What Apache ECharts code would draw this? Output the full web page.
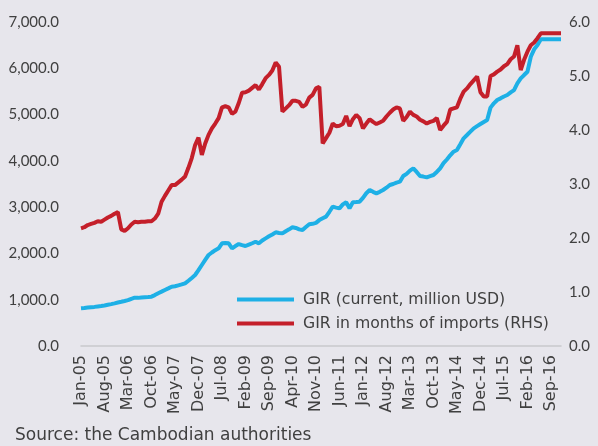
<!DOCTYPE html>
<html>
<head>
<meta charset="utf-8">
<script src="https://cdn.jsdelivr.net/npm/echarts@6/dist/echarts.min.js"></script>
<style>
html,body{margin:0;padding:0;background:#e7e6ec;}
#c{width:598px;height:446px;}
</style>
</head>
<body>
<div id="c"></div>
<script>
const months = ['Jan','Feb','Mar','Apr','May','Jun','Jul','Aug','Sep','Oct','Nov','Dec'];
const years = ['05','06','07','08','09','10','11','12','13','14','15','16'];
const categories = [];
years.forEach(y => months.forEach(m => categories.push(m + '-' + y)));

const girUSD = [
 814,820,830,838,845,855,864,875,890,905,922,940,
 955,972,990,1020,1044,1040,1050,1055,1060,1066,1100,1140,
 1174,1210,1245,1281,1290,1310,1330,1354,1410,1470,1534,1640,
 1750,1860,1966,2020,2070,2110,2218,2225,2218,2110,2160,2203,
 2180,2160,2190,2220,2253,2218,2280,2326,2370,2410,2456,2440,
 2434,2480,2520,2564,2550,2520,2506,2570,2629,2640,2660,2720,
 2760,2794,2900,3010,2990,2974,3060,3104,2974,3104,3110,3118,
 3200,3300,3370,3330,3298,3330,3370,3420,3478,3500,3530,3550,
 3672,3720,3790,3839,3760,3672,3660,3644,3670,3694,3760,3839,
 3950,4030,4120,4198,4234,4360,4487,4558,4630,4703,4750,4796,
 4840,4882,5150,5243,5314,5350,5390,5422,5480,5530,5674,5780,
 5854,5926,6250,6410,6502,6626,6626,6626,6626,6626,6626,6626
];

const girMonths = [
 2.18,2.20,2.24,2.26,2.28,2.31,2.30,2.34,2.38,2.41,2.45,2.48,
 2.16,2.13,2.18,2.25,2.30,2.29,2.30,2.30,2.31,2.31,2.36,2.45,
 2.67,2.78,2.88,2.98,2.98,3.03,3.08,3.14,3.30,3.48,3.72,3.86,
 3.54,3.75,3.91,4.03,4.12,4.22,4.42,4.44,4.42,4.30,4.34,4.50,
 4.69,4.70,4.73,4.78,4.83,4.75,4.85,4.96,5.02,5.10,5.25,5.17,
 4.34,4.40,4.46,4.54,4.54,4.52,4.43,4.47,4.60,4.65,4.77,4.80,
 3.75,3.85,3.95,4.12,4.07,4.08,4.11,4.26,4.07,4.20,4.28,4.22,
 4.03,4.12,4.20,4.15,4.11,4.14,4.17,4.25,4.32,4.38,4.42,4.40,
 4.17,4.24,4.34,4.28,4.25,4.19,4.16,4.12,4.15,4.17,4.22,4.00,
 4.08,4.15,4.38,4.40,4.42,4.58,4.71,4.77,4.85,4.92,4.99,4.70,
 4.62,4.62,5.00,5.03,5.08,5.12,5.18,5.22,5.31,5.36,5.57,5.11,
 5.30,5.45,5.57,5.62,5.70,5.79,5.79,5.79,5.79,5.79,5.79,5.79
];

const seriesNames = ['GIR (current, million USD)', 'GIR in months of imports (RHS)'];
const sourceText = 'Source: the Cambodian authorities';

const FONT = 'Lato';
const WIDE = '"DejaVu Sans"';
const TXT = '#404040';
const chart = echarts.init(document.getElementById('c'), null, {renderer:'canvas'});
chart.setOption({
  backgroundColor: '#e7e6ec',
  animation: false,
  textStyle: {fontFamily: FONT, color: TXT},
  grid: {left: 81, right: 37, top: 22, bottom: 100, containLabel: false},
  graphic: [{
    type: 'text', left: 15, top: 427,
    style: {text: sourceText, font: '17px ' + WIDE, fill: TXT}
  }],
  legend: {
    orient: 'vertical', left: 232, top: 286,
    icon: 'rect', itemWidth: 57, itemHeight: 4, itemGap: 7,
    textStyle: {fontSize: 15.7, color: TXT, fontFamily: WIDE, lineHeight: 17, padding: [0,0,0,4]},
    data: seriesNames
  },
  xAxis: {
    type: 'category', data: categories, boundaryGap: false,
    axisLine: {show: true, lineStyle: {color: '#c9c9cc', width: 1.5}},
    axisTick: {show: false},
    axisLabel: {interval: 6, rotate: 90, fontSize: 16, color: TXT, fontFamily: WIDE, margin: 9}
  },
  yAxis: [{
    type: 'value', min: 0, max: 7000, interval: 1000,
    splitLine: {show: false}, axisLine: {show: false}, axisTick: {show: false},
    axisLabel: {fontSize: 15, color: TXT, fontFamily: FONT, margin: 22,
      formatter: v => v.toLocaleString('en-US', {minimumFractionDigits: 1, maximumFractionDigits: 1})}
  }, {
    type: 'value', min: 0, max: 6, interval: 1, position: 'right',
    splitLine: {show: false}, axisLine: {show: false}, axisTick: {show: false},
    axisLabel: {fontSize: 15, color: TXT, fontFamily: FONT, margin: 8,
      formatter: v => v.toFixed(1)}
  }],
  series: [{
    name: seriesNames[0], type: 'line', data: girUSD, yAxisIndex: 0,
    showSymbol: false, symbol: 'none',
    lineStyle: {color: '#1eb0e6', width: 4}, itemStyle: {color: '#1eb0e6'}
  }, {
    name: seriesNames[1], type: 'line', data: girMonths, yAxisIndex: 1,
    showSymbol: false, symbol: 'none',
    lineStyle: {color: '#c41f2a', width: 4}, itemStyle: {color: '#c41f2a'}
  }]
});
</script>
</body>
</html>
